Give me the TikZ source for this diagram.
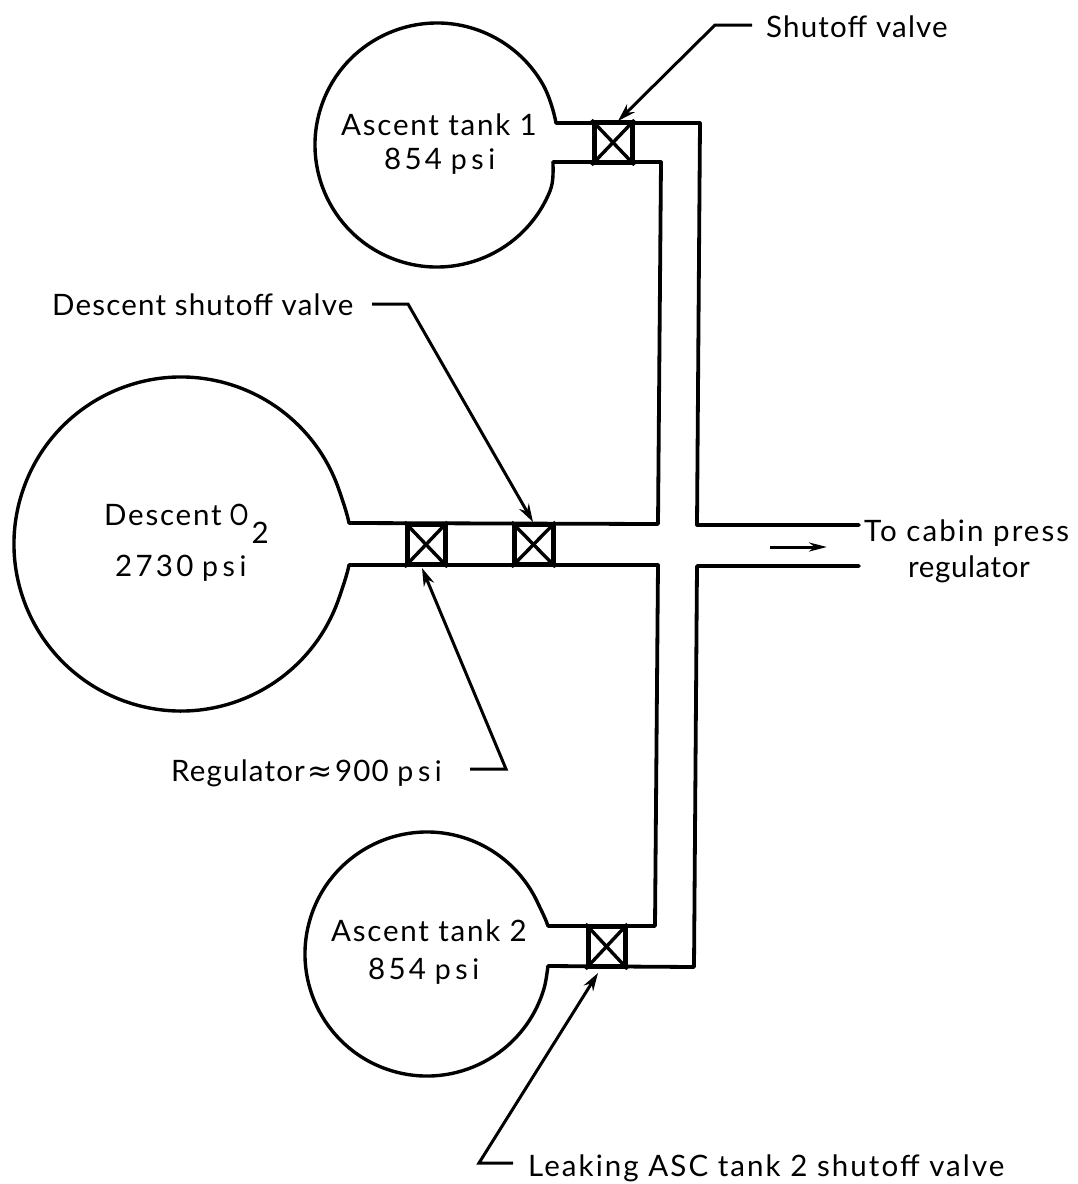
\documentclass[tikz,border=0pt]{standalone}
\usepackage{fontspec}
\setmainfont[LetterSpace=6]{Lato}
\newfontfamily\symf{DejaVu Sans}
\usetikzlibrary{arrows.meta,calc}
\tikzset{
  tank/.style={line width=3.4pt,line join=round},
  pipe/.style={line width=3.8pt,line join=round,line cap=round},
  valvebox/.style={draw,line width=5pt,rectangle,minimum width=#1,minimum height=40pt,inner sep=0pt},
  vx/.style={line width=3.4pt},
  leader/.style={line width=3pt},
  tip/.style={-{Stealth[length=18pt,width=11pt]}},
  lab/.style={anchor=base west,inner sep=0pt,font=\fontsize{29.5pt}{31pt}\selectfont}
}
\newcommand{\psiu}{{\addfontfeature{LetterSpace=16}\fontsize{28.5pt}{30pt}\selectfont psi}}
\newcommand{\lsp}[1]{\addfontfeature{LetterSpace=#1}}
\begin{document}
\begin{tikzpicture}[x=1pt,y=-1pt]
\useasboundingbox (0,0) rectangle (1077,1184);
% tank centres
\coordinate (ca) at (437,145);
\coordinate (cd) at (181,544);
\coordinate (cb) at (427,954);
% tank 1
\draw[tank] (553,162) .. controls (553,170) and (553.8,181.4) .. ($(ca)+(22:122)$) arc[start angle=22,end angle=330,radius=122] .. controls (549,95) and (554,112) .. (556,123);
% descent tank
\draw[tank] (349,565) .. controls (347,575) and (342.8,587) .. ($(cd)+(19:167)$) arc[start angle=19,end angle=341,radius=167] .. controls (342.8,501) and (347,513) .. (349,523);
% tank 2
\draw[tank] (548,966) .. controls (547,973) and (546,982) .. ($(cb)+(17:122)$) arc[start angle=17,end angle=334,radius=122] .. controls (540,908) and (545,917) .. (548,926);
% pipes
\coordinate (p1) at (556,123); \coordinate (p2) at (700,123); \coordinate (p3) at (697,525); \coordinate (p4) at (859,525);
\coordinate (q1) at (553,162); \coordinate (q2) at (661,162); \coordinate (q3) at (658,524); \coordinate (q4) at (349,523);
\coordinate (r1) at (349,565); \coordinate (r2) at (658,565); \coordinate (r3) at (655,926); \coordinate (r4) at (548,926);
\coordinate (s1) at (548,966); \coordinate (s2) at (694,967); \coordinate (s3) at (697,566); \coordinate (s4) at (859,566);
\draw[pipe] (p1) -- (p2) -- (p3) -- (p4);
\draw[pipe] (q1) -- (q2) -- (q3) -- (q4);
\draw[pipe] (r1) -- (r2) -- (r3) -- (r4);
\draw[pipe] (s1) -- (s2) -- (s3) -- (s4);
% valves
\node[valvebox=38pt] (v1) at (613,142.5) {};
\node[valvebox=38pt] (v2) at (426,544.5) {};
\node[valvebox=39pt] (v3) at (533.5,544.5) {};
\node[valvebox=37pt] (v4) at (606.5,946.5) {};
\foreach \v in {v1,v2,v3,v4}{
  \draw[vx] (\v.north west) -- (\v.south east);
  \draw[vx] (\v.north east) -- (\v.south west);
}
% flow arrow
\coordinate (f1) at (770,547); \coordinate (f2) at (827,547);
\draw[leader,-{Stealth[length=18pt,width=9pt]}] (f1) -- (f2);
% labels
\node[lab] (lshut) at (766,37) {\lsp{4}Shutoff valve};
\node[lab] (la1) at (341,135) {Ascent tank 1};
\node[lab] (la1p) at (384,169) {\lsp{11}854\kern-2pt{} \psiu};
\node[lab] (ldes) at (52,315) {\lsp{4}Descent shutoff valve};
\node[lab] (ldo) at (104,525) {Descent\kern8pt\scalebox{0.8}[1]{O}\kern3pt\raisebox{-18pt}{2}};
\node[lab] (ldp) at (115,576) {\lsp{11}2730\kern-2pt{} \psiu};
\node[lab] (lreg) at (171,781) {\lsp{4}Regulator\kern3pt{\symf\fontsize{30pt}{30pt}\selectfont≈}\kern2pt 900 \psiu};
\node[lab] (la2) at (331,941) {Ascent tank 2};
\node[lab] (la2p) at (368,979) {\lsp{11}854\kern-2pt{} \psiu};
\node[lab] (lcab) at (864,541) {\lsp{7}To cabin press};
\node[lab] (lcab2) at (908,577) {\lsp{2}regulator};
\node[lab] (lleak) at (528,1176) {\lsp{7}Leaking ASC tank 2 shutoff valve};
% leaders
\coordinate (a0) at (752,25); \coordinate (a1) at (715,25); \coordinate (a2) at (618,121);
\draw[leader,tip] (a0) -- (a1) -- (a2);
\coordinate (b0) at (372,304); \coordinate (b1) at (408,304); \coordinate (b2) at (533,522);
\draw[leader,tip] (b0) -- (b1) -- (b2);
\coordinate (c0) at (470,769); \coordinate (c1) at (506,769); \coordinate (c2) at (422,568);
\draw[leader,tip] (c0) -- (c1) -- (c2);
\coordinate (d0) at (513,1163); \coordinate (d1) at (479,1163); \coordinate (d2) at (598,973);
\draw[leader,tip] (d0) -- (d1) -- (d2);
\end{tikzpicture}
\end{document}
